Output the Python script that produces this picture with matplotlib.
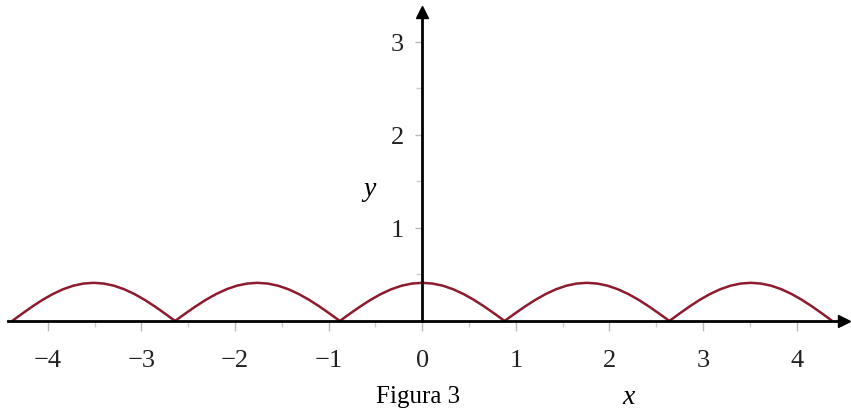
import numpy as np
import matplotlib.pyplot as plt
from matplotlib.ticker import FixedLocator

plt.rcParams['font.family'] = ['Liberation Serif', 'DejaVu Serif']

# points where the curve touches the x axis
zeros = [-4.38, -2.64, -0.88, 0.88, 2.64, 4.38]
# height of one arch, sampled at evenly spaced points between two zeros
arch = [0, 0.08, 0.157, 0.228, 0.29, 0.341, 0.379, 0.402, 0.41,
        0.402, 0.379, 0.341, 0.29, 0.228, 0.157, 0.08, 0]

xticks = [-4, -3, -2, -1, 0, 1, 2, 3, 4]
xminor = [-3.5, -2.5, -1.5, -0.5, 0.5, 1.5, 2.5, 3.5]
yticks = [1, 2, 3]
yminor = [0.5, 1.5, 2.5]

fig = plt.figure(figsize=(8.51, 4.10), dpi=100)
ax = fig.add_axes([0, 0, 1, 1])
ax.set_xlim(-4.51, 4.58)
ax.set_ylim(-0.946, 3.46)

# draw each arch between consecutive zeros
for a, b in zip(zeros[:-1], zeros[1:]):
    xs = np.linspace(a, b, len(arch))
    ax.plot(xs, arch, color='#8e1b2d', lw=1.8, solid_capstyle='round')

# axes through the origin
ax.spines['top'].set_visible(False)
ax.spines['right'].set_visible(False)
ax.spines['bottom'].set_position(('data', 0))
ax.spines['left'].set_position(('data', 0))
ax.spines['bottom'].set_bounds(-4.42, 4.5)
ax.spines['left'].set_bounds(0, 3.3)
ax.spines['bottom'].set_linewidth(2)
ax.spines['left'].set_linewidth(2)
ax.plot([4.5], [0], marker='>', ms=9, color='k', clip_on=False)
ax.plot([0], [3.32], marker='^', ms=9, color='k', clip_on=False)

ax.set_xticks(xticks)
ax.set_yticks(yticks)
ax.xaxis.set_minor_locator(FixedLocator(xminor))
ax.yaxis.set_minor_locator(FixedLocator(yminor))
ax.tick_params(axis='x', which='major', length=7, width=1, color='#bbbbbb',
               pad=13, labelsize=19, labelcolor='#222222')
ax.tick_params(axis='x', which='minor', length=4, width=1, color='#cccccc')
ax.tick_params(axis='y', which='major', length=5, width=1, color='#bbbbbb',
               pad=8, labelsize=19, labelcolor='#222222')
ax.tick_params(axis='y', which='minor', length=4, width=1, color='#cccccc')

ax.text(-0.56, 1.42, 'y', style='italic', fontsize=20, ha='center', va='center')
ax.text(2.2, -0.81, 'x', style='italic', fontsize=20, ha='center', va='center')
ax.text(-0.04, -0.81, 'Figura 3', fontsize=18, ha='center', va='center')

plt.savefig('out.png', dpi=100)
